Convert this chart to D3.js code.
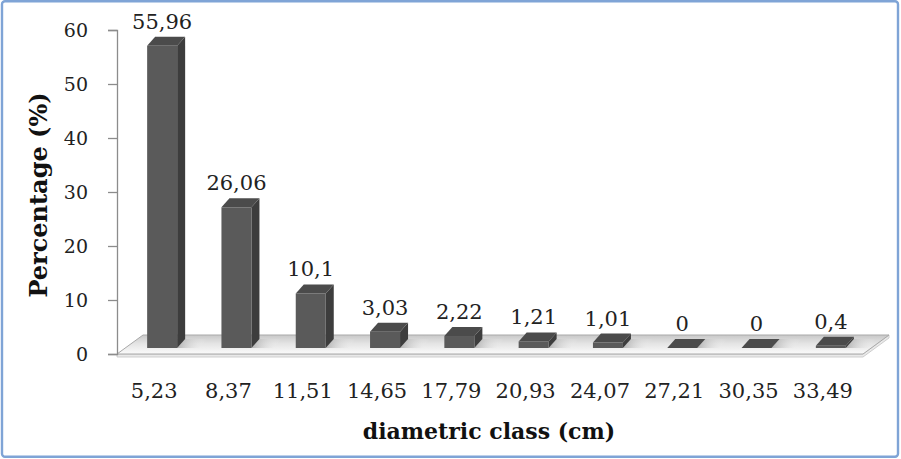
<!DOCTYPE html>
<html><head><meta charset="utf-8">
<script src="https://cdn.jsdelivr.net/npm/d3@7"></script>
<style>html,body{margin:0;padding:0;background:#fff;}svg{display:block;}</style>
</head><body>
<script>
const categories = ["5,23","8,37","11,51","14,65","17,79","20,93","24,07","27,21","30,35","33,49"];
const values = [55.96, 26.06, 10.1, 3.03, 2.22, 1.21, 1.01, 0, 0, 0.4];
const valueLabels = ["55,96","26,06","10,1","3,03","2,22","1,21","1,01","0","0","0,4"];
const yTicks = [0,10,20,30,40,50,60];
const xTitle = "diametric class (cm)";
const yTitle = "Percentage (%)";

const W = 901, H = 459;
const svg = d3.select("body").append("svg").attr("width", W).attr("height", H);
const defs = svg.append("defs");

// frame
svg.append("rect").attr("x",2).attr("y",1.2).attr("width",896).attr("height",455.5)
  .attr("rx",3).attr("fill","#fff").attr("stroke","#7fa4d6").attr("stroke-width",2.4);

const x = d3.scaleBand().domain(categories).range([117, 860]).paddingInner(0);
const y = d3.scaleLinear().domain([0, 60]).range([354, 30]);

const floorD = [26, -19];   // floor depth vector
const barOff = [8, -6];     // bar front face offset into depth
const barD = [8, -9];       // bar depth vector
const barW = 30;

// floor
const grad = defs.append("linearGradient").attr("id","floorG").attr("x1",0).attr("y1",0).attr("x2",0).attr("y2",1);
grad.append("stop").attr("offset","0%").attr("stop-color","#c8c8c8");
grad.append("stop").attr("offset","45%").attr("stop-color","#e4e4e4");
grad.append("stop").attr("offset","100%").attr("stop-color","#fbfbfb");
const x0 = x.range()[0], x1 = x.range()[1] + 3, y0 = y(0);
const floorPts = [[x0,y0],[x1,y0],[x1+floorD[0],y0+floorD[1]],[x0+floorD[0],y0+floorD[1]]];
svg.append("path").attr("d", `M${x0},${y0}L${x1},${y0}L${x1+floorD[0]},${y0+floorD[1]}L${x1+floorD[0]},${y0+floorD[1]+3}L${x1},${y0+3}L${x0},${y0+3}Z`)
  .attr("fill","#e9e9e9").attr("stroke","#c4c4c4").attr("stroke-width",0.8);
svg.append("path").attr("d", "M" + floorPts.join("L") + "Z")
  .attr("fill","url(#floorG)").attr("stroke","#a9a9a9").attr("stroke-width",1);

const fx = (i) => x(categories[i]) + x.bandwidth()/2 - 15 + barOff[0];
const fb = y0 + barOff[1];
const ft = (d) => y(d) + barOff[1];

// shadows on floor
const sh = defs.append("linearGradient").attr("id","shG").attr("x1",0).attr("y1",0).attr("x2",1).attr("y2",0);
sh.append("stop").attr("offset","0%").attr("stop-color","#9a9a9a").attr("stop-opacity",0.7);
sh.append("stop").attr("offset","100%").attr("stop-color","#ffffff").attr("stop-opacity",0);
svg.append("g").selectAll("path").data(values).join("path")
  .attr("d", (d,i) => {
    const a = fx(i) + barW;
    return `M${a},${fb}L${a+barD[0]},${fb+barD[1]}L${a+barD[0]+22},${fb+barD[1]}L${a+22},${fb}Z`;
  }).attr("fill","url(#shG)");

// y axis
const yAxis = d3.axisLeft(y).tickValues(yTicks).tickSize(9).tickPadding(20).tickFormat(d3.format("d"));
const gy = svg.append("g").attr("transform",`translate(${x0},0)`).call(yAxis);
gy.select(".domain").attr("stroke","#8c8c8c").attr("stroke-width",1.3);
gy.selectAll(".tick line").attr("stroke","#8c8c8c").attr("stroke-width",1.3);
gy.selectAll(".tick text").attr("font-family","'DejaVu Serif', serif").attr("font-size",19)
  .attr("fill","#222").attr("dy","0.35em");

// bars
const bars = svg.append("g").selectAll("g").data(values).join("g");
bars.append("path").attr("d",(d,i)=>{ // side
  const a = fx(i)+barW, t = ft(d);
  return `M${a},${t}L${a+barD[0]},${t+barD[1]}L${a+barD[0]},${fb+barD[1]}L${a},${fb}Z`;
}).attr("fill","#3d3d3d");
bars.append("path").attr("d",(d,i)=>{ // top
  const a = fx(i), t = ft(d);
  return `M${a},${t}L${a+barD[0]},${t+barD[1]}L${a+barW+barD[0]},${t+barD[1]}L${a+barW},${t}Z`;
}).attr("fill","#4b4b4b");
bars.append("rect").attr("x",(d,i)=>fx(i)).attr("y",d=>ft(d)).attr("width",barW)
  .attr("height",d=>fb-ft(d)).attr("fill","#5a5a5a");

// value labels
svg.append("g").selectAll("text").data(values).join("text")
  .attr("x",(d,i)=>fx(i)+barW/2).attr("y",d=>ft(d)+barD[1]-8)
  .attr("text-anchor","middle").attr("font-family","'DejaVu Serif', serif").attr("font-size",21)
  .attr("fill","#222").text((d,i)=>valueLabels[i]);

// x labels
svg.append("g").selectAll("text").data(categories).join("text")
  .attr("x",d=>x(d)+x.bandwidth()/2).attr("y",398)
  .attr("text-anchor","middle").attr("font-family","'DejaVu Serif', serif").attr("font-size",21)
  .attr("fill","#222").text(d=>d);

// titles
svg.append("text").attr("x",489).attr("y",439).attr("text-anchor","middle")
  .attr("font-family","'DejaVu Serif', serif").attr("font-weight","bold").attr("font-size",22)
  .attr("fill","#111").text(xTitle);
svg.append("text").attr("transform","translate(47,195) rotate(-90)").attr("text-anchor","middle")
  .attr("font-family","'DejaVu Serif', serif").attr("font-weight","bold").attr("font-size",24)
  .attr("fill","#111").text(yTitle);
</script>
</body></html>
